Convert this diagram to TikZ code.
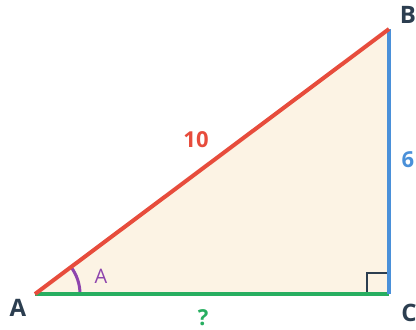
\documentclass[tikz,border=0pt]{standalone}
\usepackage{fontspec}
\setmainfont{Open Sans}
\definecolor{slate}{HTML}{2C3E50}
\definecolor{hyp}{HTML}{E74C3C}
\definecolor{opp}{HTML}{4A90D9}
\definecolor{adj}{HTML}{27AE60}
\definecolor{ang}{HTML}{8E44AD}
\definecolor{fillc}{HTML}{FCF3E4}
\tikzset{
  vlabel/.style={font=\fontsize{24}{26}\selectfont\bfseries, text=slate, inner sep=0pt},
  slabel/.style={font=\fontsize{22}{24}\selectfont\bfseries, inner sep=0pt},
  side/.style={line width=4pt, line cap=butt},
}
\begin{document}
\begin{tikzpicture}[x=1pt,y=-1pt]
\useasboundingbox (0,0) rectangle (416,330);
\coordinate (A) at (35,294);
\coordinate (B) at (389,29);
\coordinate (C) at (389,294);
\fill[fillc] (A) -- (B) -- (C) -- cycle;
\draw[slate, line width=2.5pt] (367,294) -- (367,273) -- (389,273);
\draw[ang, line width=3pt] (80,294) arc[start angle=0, end angle=-36.8, radius=45];
\draw[side, adj] (A) -- (C);
\draw[side, opp] (C) -- (B);
\draw[side, hyp] (A) -- (B);
\node[vlabel] (lA) at (18,308) {A};
\node[vlabel] (lB) at (408,15) {B};
\node[vlabel] (lC) at (409,313) {C};
\node[slabel, text=hyp] (l10) at (196,140) {10};
\node[slabel, text=opp] (l6) at (408,160) {6};
\node[slabel, text=adj] (lq) at (203,318) {?};
\node[font=\fontsize{20}{22}\selectfont, text=ang, inner sep=0pt] (la) at (101,276) {A};
\end{tikzpicture}
\end{document}
